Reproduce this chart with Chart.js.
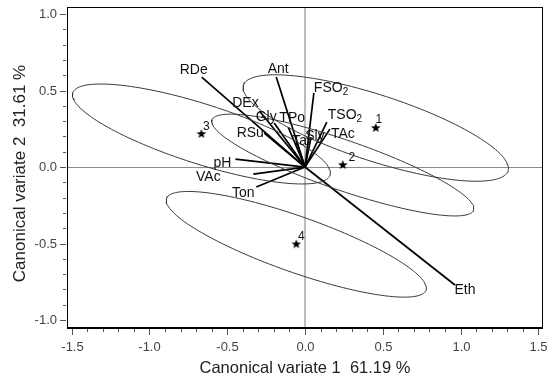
<!DOCTYPE html>
<html>
<head>
<meta charset="utf-8">
<script src="https://cdn.jsdelivr.net/npm/chart.js@4/dist/chart.umd.min.js"></script>
<style>
  html, body { margin: 0; padding: 0; background: #fff; }
</style>
</head>
<body>
<canvas id="grafico" width="549" height="378"></canvas>
<script>
// Group means (stars) on the two canonical variates
const groups = ["1", "2", "3", "4"];
const groupX = [0.455, 0.243, -0.666, -0.056];
const groupY = [0.255, 0.013, 0.216, -0.505];

// Confidence ellipses: half major axis vector and half minor width (data units)
const ellMajX = [0.85, 0.841, 0.827, 0.834];
const ellMajY = [-0.281, -0.295, -0.269, -0.3];
const ellMin = [0.216, 0.163, 0.195, 0.182];

// Variable loadings (vectors from the origin)
const variables = ["RDe", "Ant", "FSO2", "TSO2", "TAc", "Sly", "Tar", "TPo", "Gly", "DEx", "RSu", "pH", "VAc", "Ton", "Eth"];
const loadX = [-0.664, -0.185, 0.057, 0.14, 0.16, 0.038, -0.051, -0.108, -0.198, -0.293, -0.262, -0.447, -0.332, -0.313, 0.964];
const loadY = [0.588, 0.588, 0.484, 0.294, 0.248, 0.19, 0.157, 0.261, 0.288, 0.366, 0.222, 0.052, -0.046, -0.131, -0.771];

const xTitle = "Canonical variate 1  61.19 %";
const yTitle = "Canonical variate 2  31.61 %";

const FUENTE = "'Liberation Sans', Arial, sans-serif";
Chart.defaults.font.family = FUENTE;

// where each label sits relative to the end of its vector (px)
const labelPos = {
  RDe: [-8, -7, "center"], Ant: [2, -8, "center"], FSO2: [0, -5, "left"],
  TSO2: [1, -7, "left"], TAc: [1, 5, "left"], Sly: [4, -2, "center"],
  Tar: [5, -2, "center"], TPo: [4, -9, "center"], Gly: [-8, -6, "center"],
  DEx: [-14, -8, "center"], RSu: [-14, 0, "center"], pH: [-13, 4, "center"],
  VAc: [-45, 3, "center"], Ton: [-13, 6, "center"], Eth: [10, 5, "center"]
};
const groupLabelPos = [[3, -8], [9, -7], [5, -7], [5, -8]];

// estrella rellena de cinco puntas para los centroides
function estrella(r) {
  const c = document.createElement("canvas");
  c.width = c.height = r * 2 + 2;
  const g = c.getContext("2d");
  g.beginPath();
  for (let i = 0; i < 10; i++) {
    const rad = i % 2 ? r * 0.42 : r;
    const ang = -Math.PI / 2 + (i * Math.PI) / 5;
    g.lineTo(r + 1 + rad * Math.cos(ang), r + 1 + rad * Math.sin(ang));
  }
  g.closePath();
  g.fillStyle = "#000";
  g.fill();
  return c;
}

function elipse(i) {
  const mx = ellMajX[i], my = ellMajY[i];
  const len = Math.hypot(mx, my);
  const nx = (-my / len) * ellMin[i], ny = (mx / len) * ellMin[i];
  const pts = [];
  for (let k = 0; k <= 144; k++) {
    const t = (k / 144) * 2 * Math.PI;
    pts.push({
      x: groupX[i] + mx * Math.cos(t) + nx * Math.sin(t),
      y: groupY[i] + my * Math.cos(t) + ny * Math.sin(t),
    });
  }
  return pts;
}

const datasets = [];
groups.forEach((g, i) => {
  datasets.push({
    data: elipse(i),
    showLine: true,
    borderColor: "#3a3a3a",
    borderWidth: 1,
    pointRadius: 0,
    fill: false,
  });
});
variables.forEach((v, i) => {
  datasets.push({
    data: [{ x: 0, y: 0 }, { x: loadX[i], y: loadY[i] }],
    showLine: true,
    borderColor: "#000",
    borderWidth: 1.7,
    pointRadius: 0,
  });
});
datasets.push({
  data: groupX.map((x, i) => ({ x: x, y: groupY[i] })),
  pointStyle: estrella(5),
  pointRadius: 5,
  showLine: false,
});

const isMajor = (v) => Math.abs(v * 2 - Math.round(v * 2)) < 1e-6;

const decoracion = {
  id: "decoracion",
  afterDatasetsDraw(chart) {
    const { ctx, chartArea: a, scales } = chart;
    const sx = scales.x, sy = scales.y;
    ctx.save();
    // marco
    ctx.strokeStyle = "#000";
    ctx.lineWidth = 1;
    ctx.strokeRect(a.left + 0.5, a.top + 0.5, a.right - a.left - 1, a.bottom - a.top - 1);
    // marcas y numeros de los ejes
    ctx.strokeStyle = "#555";
    ctx.fillStyle = "#444";
    ctx.font = "13px " + FUENTE;
    ctx.beginPath();
    ctx.textAlign = "center";
    ctx.textBaseline = "middle";
    sx.ticks.forEach((t) => {
      const px = Math.round(sx.getPixelForValue(t.value)) + 0.5;
      ctx.moveTo(px, a.bottom + 1);
      ctx.lineTo(px, a.bottom + (isMajor(t.value) ? 7 : 4));
      if (isMajor(t.value)) ctx.fillText(t.value.toFixed(1), px, a.bottom + 19);
    });
    ctx.textAlign = "right";
    sy.ticks.forEach((t) => {
      const py = Math.round(sy.getPixelForValue(t.value)) + 0.5;
      ctx.moveTo(a.left - 1, py);
      ctx.lineTo(a.left - (isMajor(t.value) ? 7 : 4), py);
      if (isMajor(t.value)) ctx.fillText(t.value.toFixed(1), a.left - 10, py);
    });
    ctx.stroke();

    // titulo del eje vertical
    ctx.save();
    ctx.translate(20, (a.top + a.bottom) / 2 + 6);
    ctx.rotate(-Math.PI / 2);
    ctx.textAlign = "center";
    ctx.fillStyle = "#222";
    ctx.font = "17px " + FUENTE;
    ctx.fillText(yTitle, 0, 0);
    ctx.restore();

    // etiquetas de las variables
    ctx.fillStyle = "#111";
    variables.forEach((v, i) => {
      const p = labelPos[v];
      const px = sx.getPixelForValue(loadX[i]) + p[0];
      const py = sy.getPixelForValue(loadY[i]) + p[1];
      const sub = /[A-Z]2$/.test(v);
      const base = sub ? v.slice(0, -1) : v;
      ctx.font = "14px " + FUENTE;
      const w = ctx.measureText(base).width;
      ctx.font = "10px " + FUENTE;
      const ws = sub ? ctx.measureText("2").width : 0;
      const x0 = p[2] === "left" ? px : px - (w + ws) / 2;
      ctx.textAlign = "left";
      ctx.font = "14px " + FUENTE;
      ctx.fillText(base, x0, py);
      if (sub) {
        ctx.font = "10px " + FUENTE;
        ctx.fillText("2", x0 + w, py + 4);
      }
    });
    // numeros de los grupos
    ctx.font = "12px " + FUENTE;
    ctx.textAlign = "center";
    groups.forEach((g, i) => {
      const px = sx.getPixelForValue(groupX[i]) + groupLabelPos[i][0];
      const py = sy.getPixelForValue(groupY[i]) + groupLabelPos[i][1];
      ctx.fillText(g, px, py);
    });
    ctx.restore();
  },
};

const ejeCero = (color, ancho) => ({
  drawTicks: false,
  color: (c) => (c.tick && Math.abs(c.tick.value) < 1e-9 ? color : "rgba(0,0,0,0)"),
  lineWidth: (c) => (c.tick && Math.abs(c.tick.value) < 1e-9 ? ancho : 0),
});

new Chart(document.getElementById("grafico"), {
  type: "scatter",
  data: { datasets: datasets },
  plugins: [decoracion],
  options: {
    responsive: false,
    animation: false,
    layout: { padding: { top: 7, right: 3, left: 0, bottom: 0 } },
    plugins: { legend: { display: false }, tooltip: { enabled: false } },
    scales: {
      x: {
        min: -1.53,
        max: 1.53,
        afterFit: (s) => { s.height = 50; },
        border: { display: true, color: "#000" },
        grid: ejeCero("#bdbdbd", 2),
        ticks: { stepSize: 0.1, includeBounds: false, display: false },
        title: {
          display: true,
          text: xTitle,
          color: "#222",
          font: { size: 16.5 },
          padding: { top: 0, bottom: 0 },
        },
      },
      y: {
        min: -1.052,
        max: 1.046,
        afterFit: (s) => { s.width = 67; },
        border: { display: true, color: "#000" },
        grid: ejeCero("#8a8a8a", 1),
        ticks: { stepSize: 0.1, includeBounds: false, display: false },
      },
    },
  },
});
</script>
</body>
</html>
